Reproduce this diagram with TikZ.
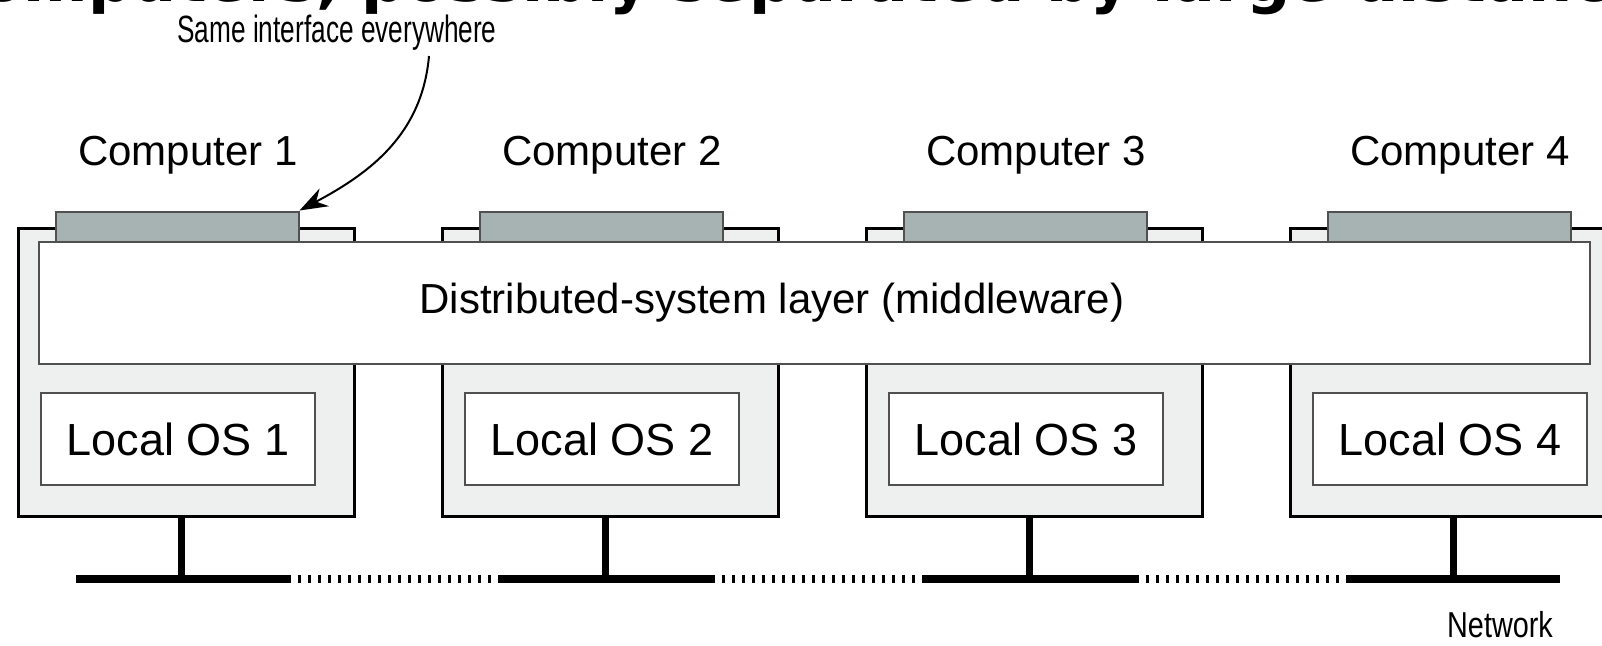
\documentclass[tikz,border=0pt]{standalone}
\usepackage{fontspec}
\setmainfont{Liberation Sans}
\newfontfamily\headfont{DejaVu Sans}
\usetikzlibrary{positioning,arrows.meta}
\definecolor{boxfill}{HTML}{EEEFEF}
\definecolor{ifacefill}{HTML}{A6B3B2}
\definecolor{edgegray}{HTML}{505050}
\tikzstyle{computer}=[draw=black,line width=1.5pt,fill=boxfill,minimum width=168pt,minimum height=144pt,inner sep=0pt]
\tikzstyle{iface}=[draw=edgegray,line width=1pt,fill=ifacefill,minimum width=121.5pt,minimum height=15pt,inner sep=0pt]
\tikzstyle{localos}=[draw=edgegray,line width=1pt,fill=white,minimum width=137pt,minimum height=46pt,inner sep=0pt,font=\fontsize{22.5}{26}\selectfont]
\tikzstyle{middleware}=[draw=edgegray,line width=1pt,fill=white,minimum width=775.5pt,minimum height=61pt,inner sep=0pt]
\tikzstyle{title}=[anchor=base,inner sep=0pt,font=\fontsize{21}{25}\selectfont]
\tikzstyle{stub}=[line width=3.5pt]
\tikzstyle{wire}=[line width=4pt]
\tikzstyle{farwire}=[line width=4pt,dash pattern=on 1.5pt off 3.5pt]
\newcommand{\newComputer}[3]{%
  \node[computer,#3](#1){};
  \node[iface](#1if) at ([xshift=-4.5pt]#1.north){};
  \node[localos](#1os) at ([xshift=-4pt,yshift=-33.5pt]#1.center){Local OS #2};
  \node[title](#1lbl) at ([xshift=1pt,yshift=30.5pt]#1.north){Computer #2};
  \coordinate(#1net) at ([xshift=-2.5pt,yshift=-30.5pt]#1.south);
  \coordinate(#1wa) at ([xshift=-52.5pt]#1net);
  \coordinate(#1wb) at ([xshift=53.5pt]#1net);
  \draw[stub](#1.south -| #1net) -- (#1net);
  \draw[wire](#1wa) -- (#1wb);
}

\begin{document}
\begin{tikzpicture}[x=0.5pt,y=-0.5pt,
    >={Stealth[length=14pt,width=10pt]},
    semithick
    ]
    \useasboundingbox (0,0) rectangle (1602,645);
    \clip (0,0) rectangle (1602,645);
    \node[anchor=base west,inner sep=0pt,font=\headfont\bfseries\fontsize{31}{36}\selectfont](head) at (-56,1){computers, possibly separated by large distances};
    \newComputer{c1}{1}{at={(186,372)}}
    \newComputer{c2}{2}{right=42.5pt of c1}
    \newComputer{c3}{3}{right=42.5pt of c2}
    \newComputer{c4}{4}{right=42.5pt of c3}
    \draw[farwire](c1wb) -- (c2wa);
    \draw[farwire](c2wb) -- (c3wa);
    \draw[farwire](c3wb) -- (c4wa);
    \node[middleware](mw) at (814.5,303){};
    \node[title,anchor=center](mwlbl) at (772,303){Distributed-system layer (middleware)};
    \node[title](same) at (337,42){\fontsize{19}{22}\selectfont\scalebox{0.69}[1]{Same interface everywhere}};
    \node[title](net) at (1500,637){\fontsize{18}{21}\selectfont\scalebox{0.8}[1]{Network}};
    \draw[->,line width=1pt] ([xshift=46pt,yshift=-7pt]same.base) to[out=-95,in=28] (c1if.north east);
  \end{tikzpicture}
\end{document}
